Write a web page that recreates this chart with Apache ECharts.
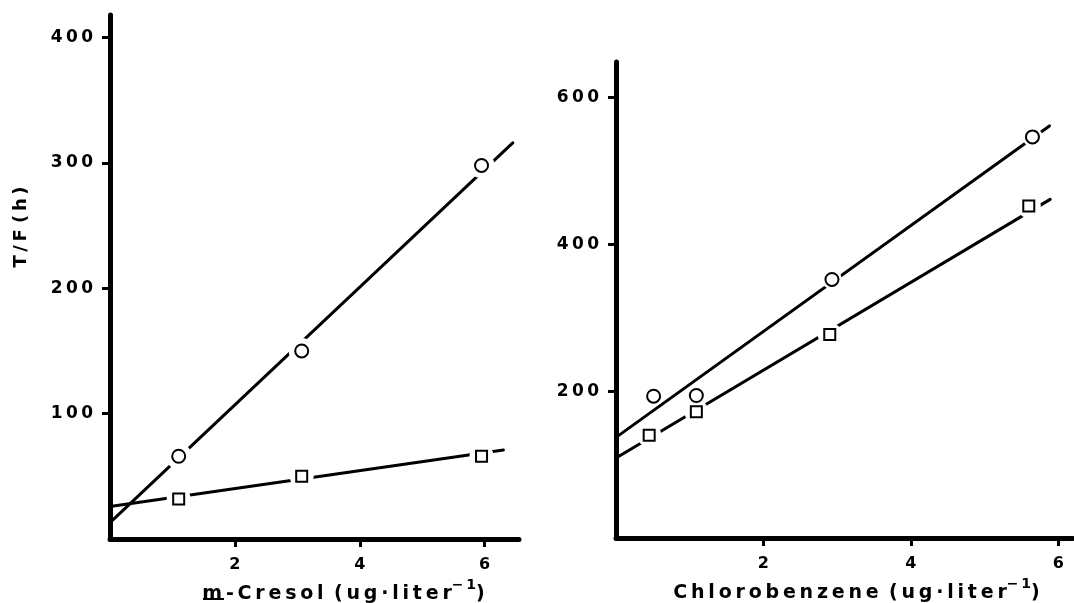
<!DOCTYPE html>
<html>
<head>
<meta charset="utf-8">
<title>T/F vs concentration</title>
<script src="https://cdn.jsdelivr.net/npm/echarts@6/dist/echarts.min.js"></script>
<style>
  html, body { margin: 0; padding: 0; background: #fff; }
  #chart_main { width: 1074px; height: 603px; }
</style>
</head>
<body>
<div id="chart_main"></div>
<script>
// m-Cresol panel (left)
var cresolX = [1.1, 3.07, 5.95];
var cresolCircle = [66, 150, 298];
var cresolSquare = [32, 50, 66];
var cresolCircleFit = [[0, 13], [6.45, 316]];
var cresolSquareFit = [[0, 26], [6.3, 71]];
var cresolYTicks = [100, 200, 300, 400];

// Chlorobenzene panel (right)
var chloroCircleX = [0.51, 1.09, 2.93, 5.65];
var chloroCircle = [193, 194, 352, 546];
var chloroSquareX = [0.45, 1.09, 2.9, 5.6];
var chloroSquare = [140, 172, 277, 452];
var chloroCircleFit = [[0, 137], [5.88, 561]];
var chloroSquareFit = [[0, 109], [5.89, 461]];
var chloroYTicks = [200, 400, 600];

var xTicks = [2, 4, 6];

var fontName = 'DejaVu Sans';

function spaced(s) {
    return String(s).split('').join('\u2009');
}

function pairs(xs, ys) {
    var out = [];
    for (var i = 0; i < xs.length; i++) {
        out.push([xs[i], ys[i]]);
    }
    return out;
}

/*主坐标轴*/
function mainAxis(grid, max, ticks, labelMargin, labelSize) {
    return {
        type: 'value',
        gridIndex: grid,
        min: 0,
        max: max,
        splitLine: { show: false },
        axisLine: { show: true, lineStyle: { color: '#000', width: 5, cap: 'round' } },
        axisTick: { show: true, inside: false, length: 8, customValues: ticks, lineStyle: { color: '#000', width: 3 } },
        axisLabel: {
            customValues: ticks,
            margin: labelMargin,
            color: '#000',
            fontFamily: fontName,
            fontWeight: 'bold',
            fontSize: labelSize,
            formatter: function (v) { return spaced(v); }
        }
    };
}

/*内侧刻度 (十字刻度)*/
function innerAxis(grid, max, ticks) {
    return {
        type: 'value',
        gridIndex: grid,
        min: 0,
        max: max,
        splitLine: { show: false },
        axisLine: { show: false },
        axisTick: { show: true, inside: true, length: 8, customValues: ticks, lineStyle: { color: '#000', width: 3 } },
        axisLabel: { show: false }
    };
}

var nameRich = {
    t: { fontFamily: fontName, fontWeight: 'bold', fontSize: 19, color: '#000', lineHeight: 26, verticalAlign: 'bottom' },
    sup: { fontFamily: fontName, fontWeight: 'bold', fontSize: 14, color: '#000', lineHeight: 14, verticalAlign: 'top' }
};

var xAxes = [];
var ax = mainAxis(0, 6.55, xTicks, 18, 16);
ax.name = '{t|' + spaced('m-Cresol') + '\u2009 ' + spaced('(ug·liter') + '}{sup|' + spaced('\u22121') + '}{t|)}';
ax.nameLocation = 'middle';
ax.nameGap = 35;
ax.nameTextStyle = { rich: nameRich, padding: [0, 0, 0, 58] };
xAxes.push(ax);
xAxes.push(innerAxis(0, 6.55, xTicks));
ax = mainAxis(1, 6.2, xTicks, 18, 16);
ax.name = '{t|' + spaced('Chlorobenzene') + '\u2009 ' + spaced('(ug·liter') + '}{sup|' + spaced('\u22121') + '}{t|)}';
ax.nameLocation = 'middle';
ax.nameGap = 35;
ax.nameTextStyle = { rich: nameRich, padding: [0, 0, 0, 24] };
xAxes.push(ax);
xAxes.push(innerAxis(1, 6.2, xTicks));

var yAxes = [];
var ay = mainAxis(0, 418, cresolYTicks, 17, 17);
ay.name = spaced('T/F') + ' ' + spaced('(h)');
ay.nameLocation = 'middle';
ay.nameRotate = 90;
ay.nameGap = 80;
ay.nameTextStyle = { fontFamily: fontName, fontWeight: 'bold', fontSize: 18, color: '#000', padding: [0, 0, 0, 100] };
yAxes.push(ay);
yAxes.push(innerAxis(0, 418, cresolYTicks));
yAxes.push(mainAxis(1, 648, chloroYTicks, 17, 17));
yAxes.push(innerAxis(1, 648, chloroYTicks));

function fitLine(data, xi, yi) {
    return {
        type: 'line', xAxisIndex: xi, yAxisIndex: yi, data: data, z: 2,
        symbol: 'none', silent: true,
        lineStyle: { color: '#000', width: 3, cap: 'round' }
    };
}
function halo(data, xi, yi, size) {
    return {
        type: 'scatter', xAxisIndex: xi, yAxisIndex: yi, data: data, z: 3,
        symbol: 'circle', symbolSize: size, silent: true,
        itemStyle: { color: '#fff', borderWidth: 0, opacity: 1 }
    };
}
function marks(data, xi, yi, symbol, size) {
    return {
        type: 'scatter', xAxisIndex: xi, yAxisIndex: yi, data: data, z: 4,
        symbol: symbol, symbolSize: size, silent: true,
        itemStyle: { color: '#fff', borderColor: '#000', borderWidth: 2, opacity: 1 }
    };
}

var cresolC = pairs(cresolX, cresolCircle);
var cresolS = pairs(cresolX, cresolSquare);
var chloroC = pairs(chloroCircleX, chloroCircle);
var chloroS = pairs(chloroSquareX, chloroSquare);

var chart_main = echarts.init(document.getElementById('chart_main'));
var option = {
    backgroundColor: '#fff',
    animation: false,
    grid: [
        { left: 110, top: 15, width: 409, height: 524, containLabel: false, outerBoundsMode: 'none' },
        { left: 616, top: 62, width: 457, height: 476, containLabel: false, outerBoundsMode: 'none' }
    ],
    // underline of the "m" in m-Cresol
    graphic: [
        { type: 'rect', left: 203, top: 598, shape: { width: 21, height: 2 }, style: { fill: '#000' }, silent: true }
    ],
    xAxis: xAxes,
    yAxis: yAxes,
    series: [
        fitLine(cresolCircleFit, 0, 0),
        fitLine(cresolSquareFit, 0, 0),
        halo(cresolC, 0, 0, 26),
        halo(cresolS, 0, 0, 24),
        marks(cresolC, 0, 0, 'circle', 13),
        marks(cresolS, 0, 0, 'rect', 11),
        fitLine(chloroCircleFit, 2, 2),
        fitLine(chloroSquareFit, 2, 2),
        halo(chloroC, 2, 2, 20),
        halo(chloroS, 2, 2, 24),
        marks(chloroC, 2, 2, 'circle', 13),
        marks(chloroS, 2, 2, 'rect', 11)
    ]
};
chart_main.setOption(option);
</script>
</body>
</html>
